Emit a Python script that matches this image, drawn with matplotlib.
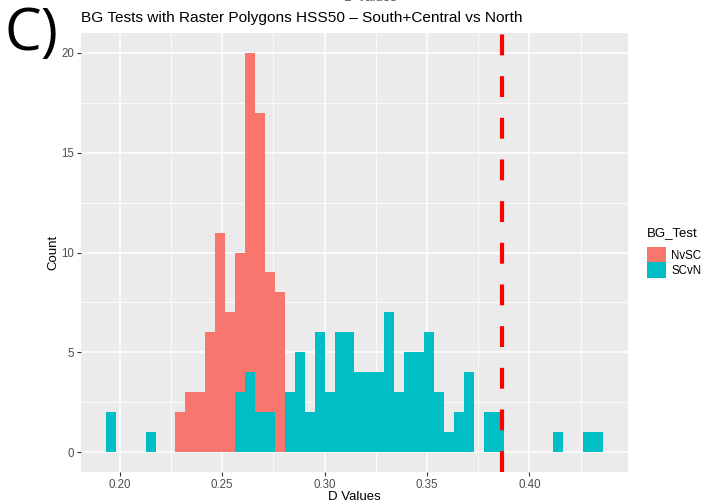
import numpy as np
import matplotlib.pyplot as plt
from matplotlib.patches import Patch

# histogram bins (50 bins shared by both tests)
bin_start = 0.19315
bin_width = 0.004858
n_bins = 50

# counts per bin, index -> count
nvsc_counts = {7: 2, 8: 3, 9: 3, 10: 6, 11: 11, 12: 7, 13: 10, 14: 20,
               15: 17, 16: 9, 17: 8}
scvn_counts = {0: 2, 4: 1, 13: 3, 14: 4, 15: 2, 16: 2, 18: 3, 19: 5,
               20: 2, 21: 6, 22: 3, 23: 6, 24: 6, 25: 4, 26: 4, 27: 4,
               28: 7, 29: 3, 30: 5, 31: 5, 32: 6, 33: 3, 34: 1, 35: 2,
               36: 4, 38: 2, 39: 2, 45: 1, 48: 1, 49: 1}

observed_d = 0.3865

groups = ['NvSC', 'SCvN']
colors = ['#F8766D', '#00BFC4']
x_ticks = [0.20, 0.25, 0.30, 0.35, 0.40]
y_ticks = [0, 5, 10, 15, 20]

plt.rcParams['font.family'] = ['Liberation Sans', 'DejaVu Sans']

fig = plt.figure(figsize=(7.04, 5.04), dpi=100)
ax = fig.add_axes([81 / 704, 32 / 504, 547 / 704, 439 / 504])
ax.set_facecolor('#EBEBEB')

edges = bin_start + bin_width * np.arange(n_bins)
for counts, col in zip([nvsc_counts, scvn_counts], colors):
    idx = np.array(sorted(counts))
    vals = np.array([counts[i] for i in idx])
    ax.bar(edges[idx], vals, width=bin_width, align='edge', color=col,
           linewidth=0, zorder=3)

ax.axvline(observed_d, color='#FF0000', lw=3, ls=(0, (5, 5)), zorder=4)

lo, hi = bin_start, bin_start + bin_width * n_bins
pad = (hi - lo) * 0.05
ax.set_xlim(lo - pad, hi + pad)
ax.set_ylim(-1, 21)

ax.set_xticks(x_ticks)
ax.set_xticklabels(['%.2f' % v for v in x_ticks])
ax.set_yticks(y_ticks)
ax.set_xticks(np.arange(0.225, 0.45, 0.05), minor=True)
ax.set_yticks(np.arange(2.5, 20, 5), minor=True)
ax.grid(which='major', color='white', lw=1.1, zorder=0)
ax.grid(which='minor', color='white', lw=0.55, zorder=0)
ax.set_axisbelow(True)
for s in ax.spines.values():
    s.set_visible(False)
ax.tick_params(which='major', length=3, width=0.8, color='#333333',
               labelcolor='#4D4D4D', labelsize=8.3, pad=2)
ax.tick_params(which='minor', length=0)

ax.set_xlabel('D Values', fontsize=9.5, labelpad=0)
ax.set_ylabel('Count', fontsize=9.5, labelpad=1)
ax.set_title('BG Tests with Raster Polygons HSS50 \u2013 South+Central vs North',
             fontsize=11.1, loc='left', pad=8)

handles = [Patch(facecolor=c, edgecolor='none', label=g)
           for g, c in zip(groups, colors)]
leg = fig.legend(handles=handles, title='BG_Test', loc='upper left',
                 bbox_to_anchor=(640 / 704, 1 - 220 / 504), frameon=False,
                 fontsize=8.3, title_fontsize=9.5, handlelength=1.65,
                 handleheight=1.65, handletextpad=0.45, labelspacing=0.0,
                 borderaxespad=0.2)
leg._legend_box.align = 'left'
leg._legend_box.sep = 6

fig.text(5 / 704, 1 - 50 / 504, 'C)', fontsize=42, va='baseline', ha='left',
         family=['Open Sans', 'DejaVu Sans'])
fig.text(370 / 704, 1.003, 'D Values', fontsize=9.5, va='center', ha='center',
         color='#555555')

fig.savefig('out.png', dpi=100)
